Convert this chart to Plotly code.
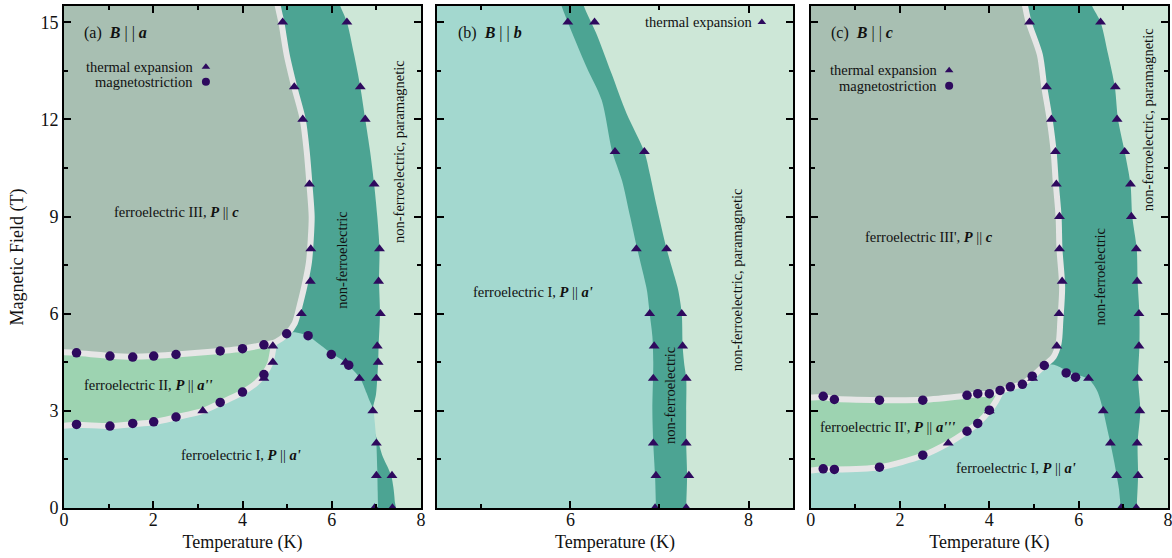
import plotly.graph_objects as go

# ---------------- colours ----------------
C_PARA = "#cde7d7"   # non-ferroelectric, paramagnetic
C_NF = "#4ca493"     # non-ferroelectric
C_FE1 = "#a3d8cf"    # ferroelectric I
C_FE2 = "#9dd3b1"    # ferroelectric II / II'
C_FE3 = "#a8bfb2"    # ferroelectric III / III'
C_LINE = "#e6e6e6"   # first-order transition lines
C_MARK = "#2e0a5e"
FONT = "Liberation Serif"

# ---------------- panel (a): B || a ----------------
a_te_T = [4.90, 6.34, 5.16, 6.64, 5.35, 6.75, 5.50, 6.95, 5.53, 7.07, 5.52, 7.05, 5.32, 7.09,
          4.68, 7.02, 4.68, 6.31, 7.04, 4.48, 6.62, 7.00, 3.11, 6.92, 7.00, 7.00, 7.35, 6.96, 7.36]
a_te_B = [15, 15, 13, 13, 12, 12, 10, 10, 8, 8, 7, 7, 6, 6,
          5, 5, 4.5, 4.5, 4.5, 4, 4, 4, 3, 3, 2, 1, 1, 0, 0]
a_ms_T = [0.28, 1.03, 1.54, 2.01, 2.51, 3.50, 4.00, 4.48, 4.99, 5.47, 5.99, 6.38,
          4.48, 4.00, 3.50, 2.51, 2.01, 1.54, 1.03, 0.28]
a_ms_B = [4.79, 4.69, 4.66, 4.69, 4.74, 4.85, 4.92, 5.04, 5.38, 5.32, 4.74, 4.41,
          4.12, 3.58, 3.26, 2.81, 2.66, 2.61, 2.53, 2.58]
# boundary of phase III (white line), left to right then up
a_up_T = [-1.0, 0.0, 0.28, 1.03, 1.54, 2.01, 2.51, 3.50, 4.00, 4.48, 4.75, 4.99, 5.17, 5.29,
          5.41, 5.49, 5.53, 5.55, 5.50, 5.44, 5.35, 5.16, 4.99, 4.87, 4.79, 4.72]
a_up_B = [4.85, 4.81, 4.79, 4.70, 4.67, 4.69, 4.74, 4.85, 4.92, 5.04, 5.13, 5.37, 5.70, 6.30,
          7.00, 7.60, 8.30, 9.00, 10.0, 11.0, 12.0, 13.0, 14.0, 15.0, 15.5, 16.0]
# boundary between phases II and I (white line)
a_lo_T = [-1.0, 0.0, 0.28, 1.03, 1.54, 2.01, 2.51, 3.11, 3.50, 4.00, 4.30, 4.48, 4.62, 4.68, 4.71]
a_lo_B = [2.50, 2.54, 2.57, 2.53, 2.59, 2.65, 2.80, 3.00, 3.24, 3.57, 3.85, 4.12, 4.46, 4.85, 5.12]
# non-ferroelectric / paramagnetic boundary, top to bottom
a_nf_T = [6.05, 6.19, 6.34, 6.50, 6.64, 6.75, 6.86, 6.95, 7.02, 7.07, 7.06, 7.08, 7.05, 7.04,
          7.02, 6.99, 6.91, 6.93, 6.97, 7.05, 7.14, 7.25, 7.34, 7.38, 7.41, 7.41]
a_nf_B = [16.0, 15.5, 15.0, 14.0, 13.0, 12.0, 11.0, 10.0, 9.0, 8.0, 7.0, 6.0, 5.0, 4.5,
          4.0, 3.5, 3.0, 2.6, 2.3, 2.0, 1.6, 1.27, 0.96, 0.65, 0.24, -0.3]
# outline of phase I, bottom to top along its right edge
a_fe1_T = [7.04, 7.03, 7.02, 7.00, 6.98, 6.96, 6.93, 6.85, 6.78, 6.64, 6.45, 6.31, 6.00,
           5.70, 5.46, 5.20, 4.90, -1.0, -1.0]
a_fe1_B = [-0.3, 0.5, 1.2, 2.0, 2.4, 2.7, 3.05, 3.3, 3.55, 4.0, 4.3, 4.5, 4.77,
           5.08, 5.32, 5.42, 5.40, 5.40, -0.3]

# ---------------- panel (b): B || b ----------------
b_te_T = [5.97, 6.27, 6.50, 6.83, 6.74, 7.08, 6.89, 7.25, 6.94, 7.26, 6.93, 7.30,
          6.93, 7.30, 6.96, 7.33, 6.95, 7.30]
b_te_B = [15, 15, 11, 11, 8, 8, 6, 6, 5, 5, 4, 4, 2, 2, 1, 1, 0, 0]
b_l_T = [5.85, 5.90, 6.18, 6.35, 6.47, 6.58, 6.67, 6.75, 6.82, 6.86, 6.89, 6.92, 6.93,
         6.92, 6.93, 6.95, 6.96, 6.96]
b_l_B = [16.0, 15.5, 13.62, 12.6, 11.0, 10.1, 9.0, 8.0, 7.2, 6.7, 6.0, 5.3, 4.5,
         3.0, 2.0, 1.0, 0.0, -0.3]
b_r_T = [6.10, 6.15, 6.29, 6.46, 6.63, 6.83, 6.89, 6.97, 7.08, 7.17, 7.21, 7.25, 7.26,
         7.28, 7.30, 7.30, 7.30, 7.31, 7.30, 7.30]
b_r_B = [16.0, 15.5, 14.65, 13.42, 12.18, 11.0, 10.33, 9.3, 8.0, 7.14, 6.73, 6.0, 5.0,
         4.4, 4.0, 3.0, 2.0, 1.0, 0.0, -0.3]

# ---------------- panel (c): B || c ----------------
c_te_T = [4.90, 6.49, 5.28, 6.82, 5.39, 6.86, 5.48, 7.03, 5.50, 7.16, 5.57, 7.18, 5.57, 7.29,
          5.63, 7.31, 5.56, 7.35, 5.51, 7.35, 4.97, 6.22, 7.32, 4.00, 6.55, 7.37, 3.08, 6.71,
          7.31, 6.85, 7.33, 6.95, 7.29]
c_te_B = [15, 15, 13, 13, 12, 12, 11, 11, 10, 10, 9, 9, 8, 8,
          7, 7, 6, 6, 5, 5, 4, 4, 4, 3, 3, 3, 2, 2,
          2, 1, 1, 0, 0]
c_ms_T = [0.28, 0.53, 1.54, 2.51, 3.50, 3.74, 4.00, 4.24, 4.47, 4.74, 4.96, 5.23, 5.72, 5.93,
          4.00, 3.74, 3.50, 2.51, 1.54, 0.53, 0.28]
c_ms_B = [3.45, 3.35, 3.33, 3.33, 3.48, 3.53, 3.53, 3.63, 3.74, 3.82, 4.07, 4.40, 4.17, 4.04,
          3.02, 2.61, 2.37, 1.63, 1.26, 1.19, 1.21]
c_up_T = [-1.0, 0.0, 0.28, 0.53, 1.54, 2.51, 3.50, 3.74, 4.00, 4.24, 4.47, 4.74, 4.96, 5.23,
          5.44, 5.55, 5.59, 5.63, 5.57, 5.55, 5.49, 5.44, 5.35, 5.23, 5.13, 4.88, 4.80, 4.72]
c_up_B = [3.40, 3.41, 3.43, 3.37, 3.33, 3.34, 3.47, 3.51, 3.53, 3.61, 3.72, 3.83, 4.06, 4.40,
          4.67, 5.08, 5.80, 6.83, 8.0, 9.0, 10.0, 11.0, 12.0, 13.0, 14.0, 15.0, 15.5, 16.0]
c_lo_T = [-1.0, 0.0, 0.28, 0.53, 1.54, 2.51, 3.08, 3.50, 3.74, 4.00, 4.15, 4.27]
c_lo_B = [1.14, 1.16, 1.20, 1.19, 1.26, 1.62, 2.00, 2.37, 2.62, 3.00, 3.30, 3.62]
c_nf_T = [6.15, 6.30, 6.49, 6.66, 6.81, 6.88, 7.03, 7.16, 7.20, 7.30, 7.32, 7.36, 7.36,
          7.33, 7.38, 7.32, 7.33, 7.30, 7.30]
c_nf_B = [16.0, 15.5, 15.0, 14.0, 13.0, 12.0, 11.0, 10.0, 9.0, 8.0, 7.0, 6.0, 5.0,
          4.0, 3.0, 2.0, 1.0, 0.0, -0.3]
c_fe1_T = [6.95, 6.94, 6.90, 6.85, 6.80, 6.71, 6.63, 6.55, 6.42, 6.22, 5.93, 5.72, 5.45,
           5.20, -1.0, -1.0]
c_fe1_B = [-0.3, 0.0, 0.6, 1.0, 1.4, 2.0, 2.5, 3.0, 3.6, 3.98, 4.13, 4.25, 4.42,
           4.45, 4.45, -0.3]

fig = go.Figure()


def fill(xs, ys, color, ax):
    fig.add_trace(go.Scatter(
        x=xs, y=ys, mode="lines", fill="toself", fillcolor=color,
        line=dict(width=0, color=color, shape="spline", smoothing=0.8),
        hoverinfo="skip", showlegend=False, xaxis=ax[0], yaxis=ax[1]))


def line(xs, ys, ax):
    fig.add_trace(go.Scatter(
        x=xs, y=ys, mode="lines",
        line=dict(width=6, color=C_LINE, shape="spline", smoothing=0.8),
        hoverinfo="skip", showlegend=False, xaxis=ax[0], yaxis=ax[1]))


def points(xs, ys, symbol, size, ax):
    fig.add_trace(go.Scatter(
        x=xs, y=ys, mode="markers",
        marker=dict(symbol=symbol, size=size, color=C_MARK, line=dict(width=0)),
        hoverinfo="skip", showlegend=False, xaxis=ax[0], yaxis=ax[1]))


AX_A, AX_B, AX_C = ("x", "y"), ("x2", "y2"), ("x3", "y3")
LEFT, TOP, BOT = -1.0, 16.0, -0.3
TRI, CIR = 9.5, 9.5

# panel (a)
fill(a_nf_T + [LEFT, LEFT], a_nf_B + [BOT, TOP], C_NF, AX_A)
fill(a_fe1_T, a_fe1_B, C_FE1, AX_A)
fill(a_up_T + [LEFT], a_up_B + [TOP], C_FE3, AX_A)
k = a_up_T.index(4.48) + 1
fill(a_lo_T + a_up_T[:k][::-1], a_lo_B + a_up_B[:k][::-1], C_FE2, AX_A)
line(a_up_T, a_up_B, AX_A)
line(a_lo_T, a_lo_B, AX_A)
points(a_te_T, a_te_B, "triangle-up", TRI, AX_A)
points(a_ms_T, a_ms_B, "circle", CIR, AX_A)

# panel (b)
fill(b_r_T + [3.5, 3.5], b_r_B + [BOT, TOP], C_NF, AX_B)
fill(b_l_T + [3.5, 3.5], b_l_B + [BOT, TOP], C_FE1, AX_B)
points(b_te_T, b_te_B, "triangle-up", TRI, AX_B)

# panel (c)
fill(c_nf_T + [LEFT, LEFT], c_nf_B + [BOT, TOP], C_NF, AX_C)
fill(c_fe1_T, c_fe1_B, C_FE1, AX_C)
fill(c_up_T + [LEFT], c_up_B + [TOP], C_FE3, AX_C)
k = c_up_T.index(4.24) + 1
fill(c_lo_T + c_up_T[:k][::-1], c_lo_B + c_up_B[:k][::-1], C_FE2, AX_C)
line(c_up_T, c_up_B, AX_C)
line(c_lo_T, c_lo_B, AX_C)
points(c_te_T, c_te_B, "triangle-up", TRI, AX_C)
points(c_ms_T, c_ms_B, "circle", CIR, AX_C)

# legend keys
key_a_T, key_a_B = [3.18, 3.18], [13.62, 13.16]
key_c_T, key_c_B = [3.10, 3.10], [13.51, 13.04]
key_b_T, key_b_B = [8.15], [15.0]
points(key_a_T[:1], key_a_B[:1], "triangle-up", 7.5, AX_A)
points(key_a_T[1:], key_a_B[1:], "circle", 8, AX_A)
points(key_c_T[:1], key_c_B[:1], "triangle-up", 7.5, AX_C)
points(key_c_T[1:], key_c_B[1:], "circle", 8, AX_C)
points(key_b_T, key_b_B, "triangle-up", 7.5, AX_B)

ann = []


def text(ax, x, y, s, size=14.5, angle=0, xanchor="center"):
    ann.append(dict(xref=ax[0], yref=ax[1], x=x, y=y, text=s, showarrow=False,
                    textangle=angle, xanchor=xanchor, yanchor="middle",
                    font=dict(family=FONT, size=size, color="#111")))


def bi(s):
    return "<b><i>" + s + "</i></b>"


NB = "\u00a0"
text(AX_A, 0.40, 14.67, "(a)" + NB + NB + bi("B") + " | | " + bi("a"), 16, xanchor="left")
text(AX_B, 4.71, 14.67, "(b)" + NB + NB + bi("B") + " | | " + bi("b"), 16, xanchor="left")
text(AX_C, 0.42, 14.67, "(c)" + NB + NB + bi("B") + " | | " + bi("c"), 16, xanchor="left")

text(AX_A, 2.94, key_a_B[0], "thermal expansion", xanchor="right")
text(AX_A, 2.94, key_a_B[1], "magnetostriction", xanchor="right")
text(AX_C, 2.88, key_c_B[0], "thermal expansion", xanchor="right")
text(AX_C, 2.88, key_c_B[1], "magnetostriction", xanchor="right")
text(AX_B, 8.06, key_b_B[0], "thermal expansion", xanchor="right")

text(AX_A, 2.53, 9.13, "ferroelectric III, " + bi("P") + " || " + bi("c"))
text(AX_A, 1.90, 3.79, "ferroelectric II, " + bi("P") + " || " + bi("a''"))
text(AX_A, 3.97, 1.63, "ferroelectric I, " + bi("P") + " || " + bi("a'"))
text(AX_A, 6.24, 7.65, "non-ferroelectric", angle=-90)
text(AX_A, 7.49, 11.0, "non-ferroelectric, paramagnetic", angle=-90)

text(AX_B, 5.58, 6.67, "ferroelectric I, " + bi("P") + " || " + bi("a'"))
text(AX_B, 7.12, 3.46, "non-ferroelectric", angle=-90)
text(AX_B, 7.87, 7.06, "non-ferroelectric, paramagnetic", angle=-90)

text(AX_C, 2.64, 8.36, "ferroelectric III', " + bi("P") + " || " + bi("c"))
text(AX_C, 1.71, 2.50, "ferroelectric II', " + bi("P") + " || " + bi("a'''"))
text(AX_C, 4.60, 1.22, "ferroelectric I, " + bi("P") + " || " + bi("a'"))
text(AX_C, 6.47, 7.14, "non-ferroelectric", angle=-90)
text(AX_C, 7.57, 12.0, "non-ferroelectric, paramagnetic", angle=-90)

tick_font = dict(family=FONT, size=18, color="#111")
common = dict(showgrid=False, zeroline=False, showline=True, linewidth=2, linecolor="black",
              mirror="ticks", ticks="inside", ticklen=7, tickwidth=1.5, tickcolor="black",
              tickfont=tick_font, automargin=False)
xminor = dict(dtick=1, ticks="inside", ticklen=4, tickwidth=1.5, tickcolor="black")
yminor = dict(dtick=1.5, ticks="inside", ticklen=4, tickwidth=1.5, tickcolor="black")
xtitle = dict(text="Temperature (K)", font=dict(family=FONT, size=18, color="#111"), standoff=7)

fig.update_layout(
    width=1172, height=558,
    margin=dict(l=64, r=4, t=6, b=50),
    paper_bgcolor="white", plot_bgcolor=C_PARA,
    showlegend=False,
    annotations=ann,
    xaxis=dict(domain=[0, 0.32337], range=[0, 8], dtick=2, tick0=0, minor=xminor,
               anchor="y", title=xtitle, ticklabelstandoff=-6, **common),
    xaxis2=dict(domain=[0.33786, 0.66033], range=[4.5, 8.5], dtick=2, tick0=0, minor=xminor,
                anchor="y2", title=xtitle, ticklabelstandoff=-6, **common),
    xaxis3=dict(domain=[0.67636, 1.0], range=[0, 8], dtick=2, tick0=0, minor=xminor,
                anchor="y3", title=xtitle, ticklabelstandoff=-6,
                ticklabeloverflow="allow", **common),
    yaxis=dict(domain=[0, 1], range=[0, 15.5], dtick=3, tick0=0, minor=yminor, anchor="x",
               title=dict(text="Magnetic Field (T)",
                          font=dict(family=FONT, size=18, color="#111"), standoff=12),
               **common),
    yaxis2=dict(domain=[0, 1], range=[0, 15.5], dtick=3, tick0=0, minor=yminor, anchor="x2",
                showticklabels=False, **common),
    yaxis3=dict(domain=[0, 1], range=[0, 15.5], dtick=3, tick0=0, minor=yminor, anchor="x3",
                showticklabels=False, **common),
)

fig.write_html("out.html")
